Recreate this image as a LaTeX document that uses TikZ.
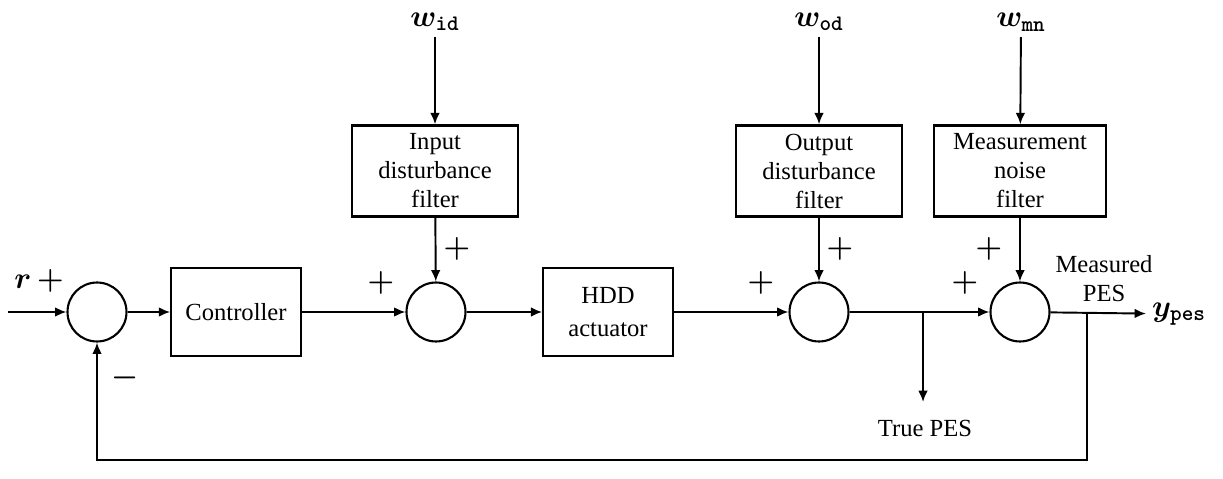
\documentclass[tikz,border=0pt]{standalone}
\usepackage{fontspec}
\setmainfont{Liberation Serif}
\usetikzlibrary{positioning}
\usetikzlibrary{arrows,arrows.meta,shapes}
\usetikzlibrary{calc}
\tikzstyle{block}=[rectangle,draw,line width=0.9pt,minimum width=2.6cm,minimum height=1.76cm,inner sep=0pt,align=center,font=\fontsize{14}{17}\selectfont]
\tikzstyle{filter}=[block,line width=1.4pt,minimum width=3.32cm,minimum height=1.82cm,font=\fontsize{14}{16.5}\selectfont]
\tikzstyle{sum}=[circle,draw,line width=1.2pt,minimum size=1.18cm,inner sep=0pt]
\tikzstyle{edge}=[draw,line width=1.1pt,-{Latex[length=6.5pt,width=5.5pt]}]
\tikzstyle{sign}=[font=\fontsize{17}{17}\selectfont\boldmath]
\tikzstyle{signal}=[font=\fontsize{18}{18}\selectfont\boldmath]
\tikzstyle{note}=[font=\fontsize{14}{16.5}\selectfont,align=center]

\begin{document}
\begin{tikzpicture}[x=0.02cm,y=-0.02cm]
    \useasboundingbox (0,0) rectangle (1223,479);

    % summing junctions
    \foreach \pos/\name in {{(97,312)/sumr}, {(436,312)/sumid}, {(819,312)/sumod}, {(1020,312)/summn}}
        \node[sum] (\name) at \pos {};

    % plant and controller
    \node[block] (ctrl) at (236,312) {Controller};
    \node[block] (hdd) at (608,312) {HDD\\[2pt]actuator};

    % disturbance filters
    \node[filter] (idf) at (435,171) {Input\\disturbance\\filter};
    \node[filter] (odf) at (819,171) {Output\\disturbance\\filter};
    \node[filter,minimum width=3.44cm] (mnf) at (1020,171) {Measurement\\noise\\filter};

    % external signals
    \foreach \pos/\name/\label in {{(435,22)/wid/id}, {(819,22)/wod/od}, {(1021,22)/wmn/mn}}
        \node[signal] (\name) at \pos {$w_{\mathtt{\label}}$};
    \node[signal,anchor=west] (ypes) at (1146,314) {$y_{\mathtt{pes}}$};
    \coordinate (rin) at (8,312);
    \coordinate (ttap) at (923,312);
    \coordinate (tend) at (923,402);
    \coordinate (mtap) at (1087,312);
    \coordinate (fbk) at (1087,460);

    % labels
    \node[sign] (rlab) at (39,281) {$r\,+$};
    \node[sign] (minus) at (125,378) {$-$};
    \foreach \pos/\name in {{(381,283)/pa}, {(457,249)/pb}, {(761,283)/pc}, {(840,249)/pd}, {(965,283)/pe}, {(989,249)/pf}}
        \node[sign] (\name) at \pos {$+$};
    \node[note] (tpes) at (925,428) {True PES};
    \node[note] (mpes) at (1104,279) {Measured\\PES};

    % connectors
    \foreach \source/\dest in {rin/sumr, sumr/ctrl, ctrl/sumid, sumid/hdd, hdd/sumod, sumod/summn, summn/ypes, idf/sumid, odf/sumod, mnf/summn, wid/idf, wod/odf, wmn/mnf, ttap/tend}
        \path[edge] (\source) -- (\dest);
    \path[edge] (mtap) -- (fbk) -| (sumr.south);

\end{tikzpicture}
\end{document}
